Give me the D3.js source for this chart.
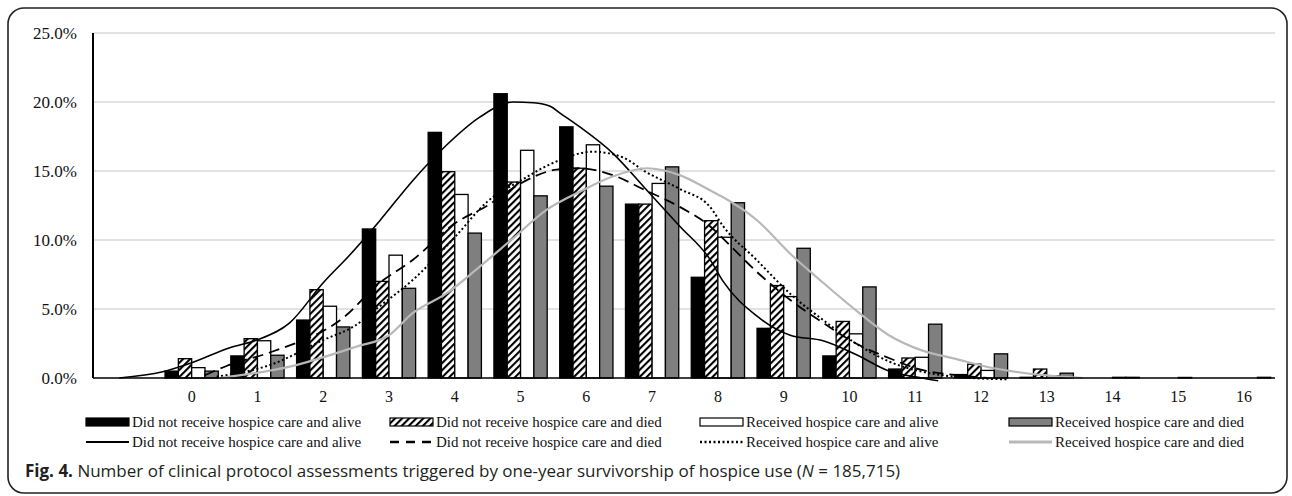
<!DOCTYPE html>
<meta charset="utf-8">
<script src="https://d3js.org/d3.v7.min.js"></script>
<style>
  body { margin: 0; background: #fff; }
</style>
<div id="chart"></div>
<script>

// categories on the x axis (a blank slot sits before 0)
const categories = ["0","1","2","3","4","5","6","7","8","9","10","11","12","13","14","15","16"];
const yTicks = [0, 5, 10, 15, 20, 25];

// bar series, percent of patients
const noHospiceAlive = [0.5, 1.6, 4.2, 10.8, 17.8, 20.6, 18.2, 12.6, 7.3, 3.6, 1.6, 0.65, 0.25, 0.05, 0, 0, 0];
const noHospiceDied  = [1.4, 2.85, 6.4, 7.0, 14.95, 14.2, 15.2, 12.6, 11.4, 6.7, 4.1, 1.45, 1.0, 0.65, 0, 0, 0];
const hospiceAlive   = [0.75, 2.7, 5.2, 8.9, 13.3, 16.5, 16.9, 14.1, 10.2, 5.9, 3.2, 1.5, 0.55, 0.17, 0.05, 0.04, 0];
const hospiceDied    = [0.5, 1.65, 3.7, 6.5, 10.5, 13.2, 13.9, 15.3, 12.7, 9.4, 6.6, 3.9, 1.75, 0.35, 0.05, 0, 0.05];

// smoothed curves: position in category units, value in percent
const solidX = [-1.1, -0.44, 0, 0.58, 0.99, 1.49, 2.0, 2.4, 2.86, 3.36, 3.88, 4.38, 4.88, 5.2, 5.45, 5.6, 5.9, 6.4, 6.92, 7.42, 7.88, 8.08, 8.59, 9.1, 9.6, 10.1, 10.6, 11.1, 11.35];
const solidY = [0, 0.45, 1.1, 2.2, 2.75, 4.0, 6.9, 8.9, 11.4, 14.3, 16.9, 18.9, 20.0, 19.95, 19.7, 19.2, 18.2, 16.3, 13.6, 11.0, 8.6, 7.0, 4.5, 3.1, 2.7, 1.7, 0.5, 0, -0.2];

const dashedX = [0.2, 0.53, 1.22, 2.3, 2.86, 3.36, 4.0, 4.5, 5.0, 5.55, 5.9, 6.4, 6.9, 7.42, 7.88, 8.08, 8.59, 9.1, 9.6, 10.1, 10.6, 11.1, 11.6, 12.1];
const dashedY = [0.2, 0.87, 1.9, 4.35, 6.9, 8.55, 11.2, 12.5, 14.1, 15.1, 15.2, 14.7, 13.6, 12.4, 11.0, 10.1, 7.7, 5.65, 4.0, 2.5, 1.45, 0.58, 0.22, 0];

const dottedX = [0.38, 1.19, 2.0, 2.5, 2.86, 3.36, 4.0, 4.5, 5.0, 5.55, 6.1, 6.55, 6.9, 7.42, 7.88, 8.08, 8.59, 9.1, 9.6, 10.1, 10.6, 11.1, 11.6, 12.4];
const dottedY = [0.1, 0.94, 2.75, 3.84, 5.2, 7.1, 10.2, 12.8, 14.3, 15.7, 16.4, 16.0, 14.95, 13.7, 12.4, 11.0, 8.55, 6.1, 4.2, 2.5, 1.2, 0.46, 0.1, -0.1];

const grayX = [0.43, 1.49, 2.5, 3.0, 3.36, 3.88, 4.38, 4.88, 5.4, 5.9, 6.4, 6.92, 7.42, 7.88, 8.08, 8.59, 9.1, 9.6, 10.1, 10.6, 11.1, 11.6, 12.1, 12.6, 13.55];
const grayY = [0, 0.82, 2.27, 3.1, 4.7, 6.15, 8.07, 10.1, 12.2, 13.5, 14.6, 15.2, 14.7, 13.6, 13.1, 11.45, 9.0, 6.9, 4.9, 3.1, 2.0, 1.4, 0.8, 0.4, 0];

const seriesNames = [
  "Did not receive hospice care and alive",
  "Did not receive hospice care and died",
  "Received hospice care and alive",
  "Received hospice care and died"
];

const width = 1292, height = 496;
const plot = {left: 93, right: 1277, top: 33, bottom: 378};
const serif = "'Liberation Serif', 'Times New Roman', serif";

const svg = d3.select("#chart").append("svg")
  .attr("width", width)
  .attr("height", height);

// hatch pattern for the second bar series
const defs = svg.append("defs");
defs.append("pattern")
    .attr("id", "hatch")
    .attr("patternUnits", "userSpaceOnUse")
    .attr("width", 5)
    .attr("height", 5)
    .attr("patternTransform", "rotate(45)")
  .call(p => {
    p.append("rect").attr("width", 5).attr("height", 5).attr("fill", "#fff");
    p.append("line").attr("x1", 1).attr("y1", 0).attr("x2", 1).attr("y2", 5)
      .attr("stroke", "#000").attr("stroke-width", 2.2);
  });

// rounded frame
svg.append("rect")
  .attr("x", 8).attr("y", 8)
  .attr("width", 1279).attr("height", 485)
  .attr("rx", 16)
  .attr("fill", "none")
  .attr("stroke", "#222")
  .attr("stroke-width", 1.6);

const slots = [""].concat(categories);
const x0 = d3.scaleBand().domain(slots).range([plot.left, plot.right]);
const x1 = d3.scaleBand().domain(d3.range(4)).range([0, x0.bandwidth()]).paddingOuter(0.47);
const y = d3.scaleLinear().domain([0, 25]).range([plot.bottom, plot.top]);
const xLine = d3.scaleLinear()
  .domain([-1, 16])
  .range([x0("") + x0.bandwidth() / 2, x0("16") + x0.bandwidth() / 2]);

// gridlines
svg.append("g")
  .selectAll("line")
  .data(yTicks.filter(d => d > 0))
  .join("line")
    .attr("x1", plot.left).attr("x2", plot.right - 2)
    .attr("y1", d => y(d)).attr("y2", d => y(d))
    .attr("stroke", "#d9d9d9")
    .attr("stroke-width", 1.5);

// y axis labels
svg.append("g")
  .attr("transform", `translate(${plot.left}, 0)`)
  .call(d3.axisLeft(y).tickValues(yTicks).tickSize(0).tickPadding(16)
        .tickFormat(d => d3.format(".1f")(d) + "%"))
  .call(g => g.select(".domain").remove())
  .selectAll("text")
    .style("font-family", serif)
    .style("font-size", "17px")
    .attr("fill", "#111");

// bars
const barData = [noHospiceAlive, noHospiceDied, hospiceAlive, hospiceDied];
const barFill = ["#000", "url(#hatch)", "#fff", "#7f7f7f"];

const groups = svg.append("g")
  .selectAll("g")
  .data(categories)
  .join("g")
    .attr("transform", d => `translate(${x0(d)}, 0)`);

groups.selectAll("rect")
  .data((d, i) => barData.map((s, k) => ({k: k, v: s[i]})))
  .join("rect")
    .attr("x", d => x1(d.k))
    .attr("y", d => y(d.v))
    .attr("width", x1.bandwidth())
    .attr("height", d => y(0) - y(d.v))
    .attr("fill", d => barFill[d.k])
    .attr("stroke", "#000")
    .attr("stroke-width", 1.3);

// curves
const lineSeries = [
  {x: solidX, y: solidY, color: "#000", width: 1.6, dash: null},
  {x: dashedX, y: dashedY, color: "#000", width: 1.8, dash: "11,6"},
  {x: dottedX, y: dottedY, color: "#000", width: 2, dash: "2,2.5"},
  {x: grayX, y: grayY, color: "#b8b8b8", width: 2.2, dash: null}
];

const line = d3.line()
  .x(d => xLine(d[0]))
  .y(d => y(d[1]))
  .curve(d3.curveMonotoneX);

svg.append("g")
  .selectAll("path")
  .data(lineSeries)
  .join("path")
    .attr("d", s => line(s.x.map((v, i) => [v, s.y[i]])))
    .attr("fill", "none")
    .attr("stroke", s => s.color)
    .attr("stroke-width", s => s.width)
    .attr("stroke-dasharray", s => s.dash);

// axes lines
svg.append("line")
  .attr("x1", plot.left).attr("x2", plot.right - 2)
  .attr("y1", y(0)).attr("y2", y(0))
  .attr("stroke", "#000").attr("stroke-width", 1.6);
svg.append("line")
  .attr("x1", plot.left).attr("x2", plot.left)
  .attr("y1", y(25)).attr("y2", y(0))
  .attr("stroke", "#000").attr("stroke-width", 2);

// x axis labels
svg.append("g")
  .attr("transform", `translate(0, ${y(0)})`)
  .call(d3.axisBottom(x0).tickValues(categories).tickSize(0).tickPadding(13))
  .call(g => g.select(".domain").remove())
  .selectAll("text")
    .style("font-family", serif)
    .style("font-size", "16px")
    .attr("fill", "#111");

// legend
const legendX = [86, 390, 700, 1009];
const swatchW = 43;
const legendRows = [422, 442];

const barLegend = svg.append("g")
  .selectAll("g")
  .data(seriesNames)
  .join("g")
    .attr("transform", (d, i) => `translate(${legendX[i]}, ${legendRows[0]})`);
barLegend.append("rect")
  .attr("x", 0).attr("y", -4)
  .attr("width", swatchW).attr("height", 8)
  .attr("fill", (d, i) => barFill[i])
  .attr("stroke", "#000").attr("stroke-width", 1.2);
barLegend.append("text")
  .attr("x", swatchW + 3).attr("y", 0).attr("dy", "0.35em")
  .style("font-family", serif).style("font-size", "15px")
  .attr("fill", "#111")
  .text(d => d);

const lineLegend = svg.append("g")
  .selectAll("g")
  .data(seriesNames)
  .join("g")
    .attr("transform", (d, i) => `translate(${legendX[i]}, ${legendRows[1]})`);
lineLegend.append("line")
  .attr("x1", 0).attr("x2", swatchW)
  .attr("stroke", (d, i) => lineSeries[i].color)
  .attr("stroke-width", (d, i) => i === 0 ? 2.2 : lineSeries[i].width + 0.6)
  .attr("stroke-dasharray", (d, i) => i === 1 ? "9,7" : lineSeries[i].dash);
lineLegend.append("text")
  .attr("x", swatchW + 3).attr("y", 0).attr("dy", "0.35em")
  .style("font-family", serif).style("font-size", "15px")
  .attr("fill", "#111")
  .text(d => d);

// caption
const caption = svg.append("text")
  .attr("x", 25).attr("y", 477)
  .style("font-family", "'Open Sans', 'Noto Sans', sans-serif")
  .style("font-size", "17px")
  .attr("fill", "#231f20");
caption.append("tspan").attr("font-weight", "bold").text("Fig. 4.");
caption.append("tspan").text(" Number of clinical protocol assessments triggered by one-year survivorship of hospice use (");
caption.append("tspan").attr("font-style", "italic").text("N");
caption.append("tspan").text(" = 185,715)");

</script>
